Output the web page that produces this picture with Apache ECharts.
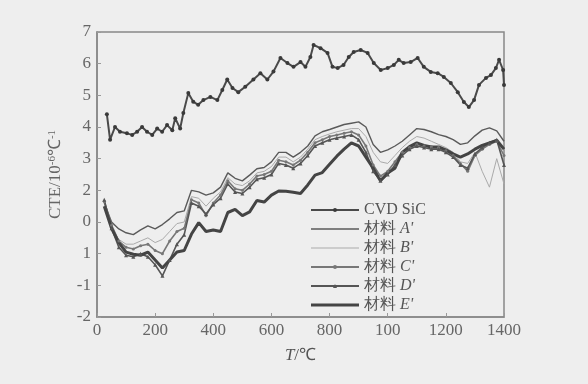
<!DOCTYPE html>
<html>
<head>
<meta charset="utf-8">
<script src="https://cdn.jsdelivr.net/npm/echarts@6/dist/echarts.min.js"></script>
<style>
  html, body { margin: 0; padding: 0; background: #eeeeee; }
  #cteChart { width: 588px; height: 384px; }
</style>
</head>
<body>
<div id="cteChart"></div>
<script>
// tick labels as printed in the figure
var xLabels = ['0', '200', '400', '600', '800', '100', '1200', '1400'];
var yLabels = ['-2', '-1', '1', '0', '2', '3', '4', '5', '6', '7'];

// CVD SiC: temperature / CTE
var sicTemp = [34, 45, 62, 79, 103, 121, 138, 155, 172, 190, 207, 224, 241, 259, 269, 286, 297, 314, 331, 348,
  366, 390, 414, 431, 448, 466, 486, 510, 538, 562, 586, 607, 631, 655, 676, 700, 717, 734, 745, 769,
  793, 810, 828, 848, 866, 883, 907, 931, 952, 976, 1000, 1021, 1038, 1055, 1079, 1103, 1124, 1148, 1172, 1193,
  1217, 1241, 1262, 1279, 1297, 1314, 1338, 1355, 1372, 1383, 1397, 1400];
var sicCte = [4.4, 3.6, 4.0, 3.85, 3.8, 3.75, 3.85, 4.0, 3.85, 3.75, 3.95, 3.85, 4.06, 3.9, 4.28, 3.95, 4.44, 5.07, 4.8, 4.7,
  4.85, 4.95, 4.85, 5.17, 5.5, 5.23, 5.1, 5.27, 5.5, 5.7, 5.5, 5.75, 6.18, 6.02, 5.9, 6.05, 5.9, 6.21, 6.59, 6.49,
  6.34, 5.9, 5.86, 5.96, 6.21, 6.37, 6.43, 6.34, 6.02, 5.8, 5.86, 5.96, 6.12, 6.02, 6.05, 6.18, 5.9, 5.74, 5.7, 5.58,
  5.39, 5.1, 4.79, 4.63, 4.85, 5.33, 5.55, 5.64, 5.86, 6.12, 5.8, 5.33];

// materials A'..E' share one temperature grid
var matTemp = [25, 50, 75, 100, 125, 150, 175, 200, 225, 250, 275, 300, 325, 350, 375, 400, 425, 450, 475, 500,
  525, 550, 575, 600, 625, 650, 675, 700, 725, 750, 775, 800, 825, 850, 875, 900, 925, 950, 975, 1000,
  1025, 1050, 1075, 1100, 1125, 1150, 1175, 1200, 1225, 1250, 1275, 1300, 1325, 1350, 1375, 1400];
var matA = [1.6, 1.0, 0.78, 0.66, 0.6, 0.75, 0.88, 0.78, 0.92, 1.1, 1.3, 1.35, 2.0, 1.95, 1.85, 1.92, 2.1, 2.55, 2.38, 2.3,
  2.48, 2.68, 2.72, 2.9, 3.2, 3.2, 3.05, 3.2, 3.4, 3.72, 3.85, 3.92, 4.0, 4.08, 4.12, 4.16, 4.0, 3.45, 3.2, 3.28,
  3.4, 3.55, 3.75, 3.95, 3.92, 3.85, 3.76, 3.7, 3.6, 3.45, 3.5, 3.72, 3.9, 3.97, 3.88, 3.55];
var matB = [1.5, 0.8, 0.45, 0.3, 0.3, 0.4, 0.5, 0.35, 0.45, 0.7, 0.95, 1.0, 1.8, 1.75, 1.5, 1.75, 1.95, 2.4, 2.2, 2.15,
  2.3, 2.55, 2.6, 2.75, 3.05, 3.05, 2.9, 3.05, 3.3, 3.6, 3.7, 3.78, 3.85, 3.9, 3.95, 3.95, 3.7, 3.2, 2.9, 2.85,
  3.1, 3.35, 3.55, 3.7, 3.65, 3.55, 3.45, 3.35, 3.2, 2.9, 2.85, 3.2, 2.6, 2.1, 3.0, 2.2];
var matC = [1.65, 0.9, 0.4, 0.2, 0.15, 0.25, 0.3, 0.1, 0.0, 0.4, 0.7, 0.8, 1.7, 1.6, 1.2, 1.6, 1.85, 2.3, 2.05, 2.0,
  2.2, 2.45, 2.5, 2.6, 2.95, 2.9, 2.8, 2.95, 3.2, 3.5, 3.6, 3.7, 3.75, 3.8, 3.85, 3.75, 3.4, 2.8, 2.45, 2.6,
  2.9, 3.2, 3.35, 3.45, 3.4, 3.38, 3.35, 3.25, 3.1, 2.85, 2.6, 3.1, 3.3, 3.45, 3.55, 3.1];
var matD = [1.7, 0.8, 0.2, -0.05, -0.1, 0.0, -0.1, -0.35, -0.7, -0.2, 0.3, 0.6, 1.6, 1.5, 1.25, 1.55, 1.75, 2.2, 1.95, 1.9,
  2.1, 2.35, 2.4, 2.5, 2.85, 2.8, 2.7, 2.85, 3.1, 3.4, 3.5, 3.6, 3.65, 3.7, 3.75, 3.6, 3.2, 2.6, 2.3, 2.5,
  2.8, 3.1, 3.3, 3.4, 3.35, 3.3, 3.3, 3.2, 3.05, 2.8, 2.7, 3.15, 3.35, 3.5, 3.6, 2.8];
var matE = [1.5, 0.8, 0.35, 0.05, -0.02, -0.05, 0.05, -0.2, -0.45, -0.2, 0.05, 0.1, 0.62, 0.98, 0.7, 0.75, 0.7, 1.3, 1.4, 1.2,
  1.32, 1.68, 1.63, 1.85, 1.98, 1.97, 1.94, 1.9, 2.17, 2.48, 2.56, 2.82, 3.08, 3.3, 3.5, 3.4, 3.05, 2.7, 2.3, 2.55,
  2.7, 3.2, 3.38, 3.5, 3.42, 3.37, 3.37, 3.28, 3.15, 3.05, 3.15, 3.3, 3.42, 3.5, 3.58, 3.3];

function pairs(xs, ys) {
  return xs.map(function (x, i) { return [x, ys[i]]; });
}

var serif = 'Liberation Serif';
var cteChart = echarts.init(document.getElementById('cteChart'));

var cteOption = {
  backgroundColor: '#eeeeee',
  animation: false,
  textStyle: { fontFamily: serif },
  grid: { left: 97, right: 84, top: 32, bottom: 67, show: true, borderColor: '#888', borderWidth: 1.5, backgroundColor: 'transparent' },
  legend: {
    orient: 'vertical',
    left: 305,
    top: 197,
    itemWidth: 48,
    itemHeight: 5,
    itemGap: 3,
    symbolKeepAspect: true,
    textStyle: {
      fontFamily: serif, fontSize: 16, color: '#555',
      rich: { i: { fontFamily: serif, fontStyle: 'italic', fontSize: 16, color: '#555' } }
    },
    formatter: function (name) {
      if (name === 'CVD SiC') return name;
      return '材料 {i|' + name.slice(3) + '}';
    },
    data: [
      'CVD SiC',
      { name: "材料 A'", icon: 'path://M0,0H48V1.3H0Z' },
      { name: "材料 B'", icon: 'path://M0,0H48V1.1H0Z' },
      "材料 C'",
      "材料 D'",
      { name: "材料 E'", icon: 'path://M0,0H48V3H0Z' }
    ]
  },
  xAxis: {
    type: 'value', min: 0, max: 1400, interval: 200,
    name: '{i|T}/℃', nameLocation: 'middle', nameGap: 30,
    nameTextStyle: {
      fontFamily: serif, fontSize: 17, color: '#555',
      rich: { i: { fontFamily: serif, fontStyle: 'italic', fontSize: 17, color: '#555' } }
    },
    axisLine: { onZero: false, lineStyle: { color: '#888', width: 1.5 } },
    axisTick: { inside: true, length: 4, lineStyle: { color: '#999' } },
    splitLine: { show: false },
    axisLabel: {
      fontFamily: serif, fontSize: 17, color: '#666', margin: 5,
      formatter: function (v) { return xLabels[Math.round(v / 200)]; }
    }
  },
  yAxis: {
    type: 'value', min: -2, max: 7, interval: 1,
    name: 'CTE/10{s|-6}℃{s|-1}', nameLocation: 'middle', nameGap: 32,
    nameTextStyle: {
      fontFamily: serif, fontSize: 17, color: '#666',
      rich: { s: { fontFamily: serif, fontSize: 11, color: '#666', verticalAlign: 'top', padding: [0, 0, 7, 0] } }
    },
    axisLine: { show: true, onZero: false, lineStyle: { color: '#888', width: 1.5 } },
    axisTick: { show: true, inside: true, length: 4, lineStyle: { color: '#999' } },
    splitLine: { show: false },
    axisLabel: {
      fontFamily: serif, fontSize: 17, color: '#666', margin: 6,
      formatter: function (v) { return yLabels[Math.round(v + 2)]; }
    }
  },
  series: [
    {
      name: 'CVD SiC', type: 'line', data: pairs(sicTemp, sicCte),
      symbol: 'circle', symbolSize: 4, showSymbol: true,
      lineStyle: { color: '#4a4a4a', width: 2 }, itemStyle: { color: '#3a3a3a' }
    },
    {
      name: "材料 A'", type: 'line', data: pairs(matTemp, matA),
      showSymbol: false, symbol: 'none',
      lineStyle: { color: '#5a5a5a', width: 1.4 }, itemStyle: { color: '#5a5a5a' }
    },
    {
      name: "材料 B'", type: 'line', data: pairs(matTemp, matB),
      showSymbol: false, symbol: 'none',
      lineStyle: { color: '#aaaaaa', width: 1 }, itemStyle: { color: '#aaaaaa' }
    },
    {
      name: "材料 C'", type: 'line', data: pairs(matTemp, matC),
      symbol: 'circle', symbolSize: 3,
      lineStyle: { color: '#777', width: 1.6 }, itemStyle: { color: '#777' }
    },
    {
      name: "材料 D'", type: 'line', data: pairs(matTemp, matD),
      symbol: 'triangle', symbolSize: 4,
      lineStyle: { color: '#555', width: 1.6 }, itemStyle: { color: '#555' }
    },
    {
      name: "材料 E'", type: 'line', data: pairs(matTemp, matE),
      showSymbol: false, symbol: 'none',
      lineStyle: { color: '#444', width: 3 }, itemStyle: { color: '#444' }
    }
  ]
};

cteChart.setOption(cteOption);
</script>
</body>
</html>
